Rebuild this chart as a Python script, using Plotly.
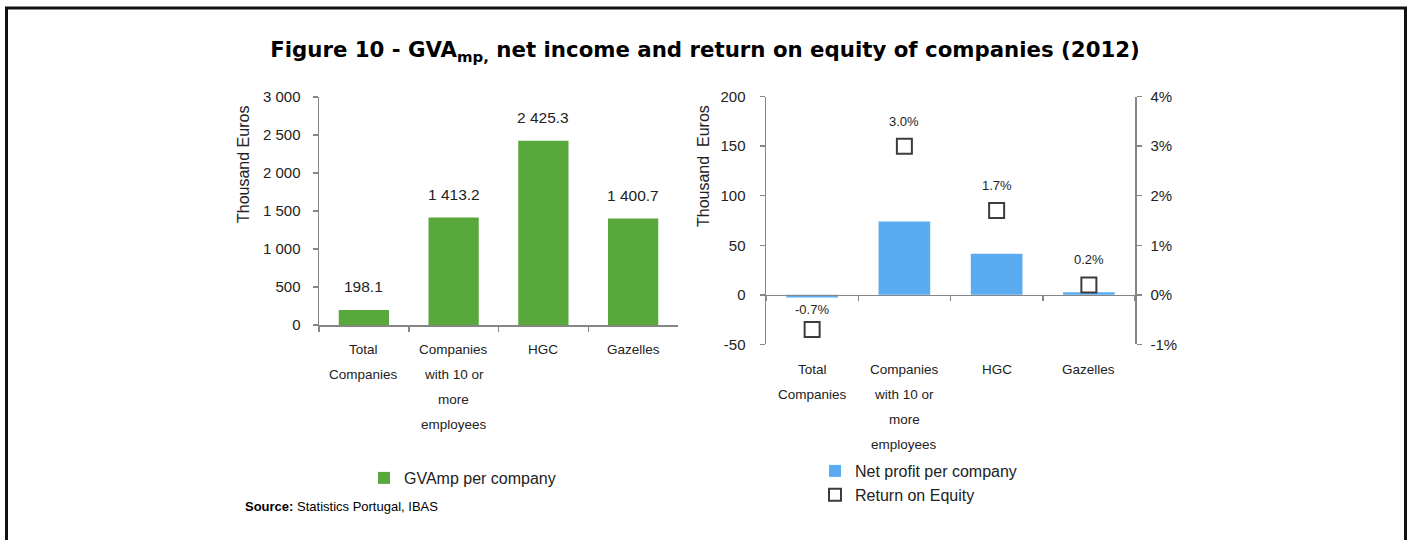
import plotly.graph_objects as go

W, H = 1410, 540

categories = ["Total Companies", "Companies with 10 or more employees", "HGC", "Gazelles"]
cat_lines = [["Total", "Companies"], ["Companies", "with 10 or", "more", "employees"], ["HGC"], ["Gazelles"]]
gva_values = [198.1, 1413.2, 2425.3, 1400.7]
gva_labels = ["198.1", "1 413.2", "2 425.3", "1 400.7"]
net_profit = [-2.7, 74.0, 41.5, 2.5]
roe_values = [-0.007, 0.030, 0.017, 0.002]
roe_labels = ["-0.7%", "3.0%", "1.7%", "0.2%"]
left_ticks = [0, 500, 1000, 1500, 2000, 2500, 3000]
left_ticktext = ["0", "500", "1 000", "1 500", "2 000", "2 500", "3 000"]
right_ticks = [-50, 0, 50, 100, 150, 200]
right_ticktext = ["-50", "0", "50", "100", "150", "200"]
pct_ticks = [-0.01, 0, 0.01, 0.02, 0.03, 0.04]
pct_ticktext = ["-1%", "0%", "1%", "2%", "3%", "4%"]

GREEN = "#58A83C"
BLUE = "#5AABF0"
AXIS = "#868686"
FONT = "Liberation Sans, Arial, sans-serif"


def px(x):
    return x / W


def py(y):
    return (H - y) / H


fig = go.Figure()

fig.add_trace(go.Bar(x=categories, y=gva_values, marker=dict(color=GREEN, line=dict(width=0)),
                     name="GVAmp per company", xaxis="x", yaxis="y", legend="legend",
                     hoverinfo="skip"))
fig.add_trace(go.Bar(x=categories, y=net_profit, marker=dict(color=BLUE, line=dict(width=0)),
                     name="Net profit per company", xaxis="x2", yaxis="y2", legend="legend2",
                     hoverinfo="skip"))
fig.add_trace(go.Scatter(x=categories, y=roe_values, mode="markers",
                         marker=dict(symbol="square", size=15, color="white",
                                     line=dict(color="#3C3C3C", width=2)),
                         name="Return on Equity", xaxis="x2", yaxis="y3", legend="legend2",
                         hoverinfo="skip"))

# Left chart geometry
L_x0, L_x1 = 319, 678
L_y0, L_y1 = 325, 97
# Right chart geometry
R_x0, R_x1 = 766, 1135
R_ytop, R_ybot = 96.7, 344.3
zero_frac = (0 - (-50)) / 250.0
r_dom = [py(R_ybot), py(R_ytop)]
x2_pos = r_dom[0] + zero_frac * (r_dom[1] - r_dom[0])

axis_common = dict(showgrid=False, zeroline=False, showline=True, linecolor=AXIS, linewidth=1.5,
                   ticks="outside", ticklen=5, tickcolor=AXIS, tickwidth=1.5, automargin=False,
                   tickfont=dict(family=FONT, size=15, color="#222"))

fig.update_layout(
    width=W, height=H,
    margin=dict(l=0, r=0, t=0, b=0, pad=0, autoexpand=False),
    paper_bgcolor="white", plot_bgcolor="white",
    bargap=0.44,
    showlegend=True,
    xaxis=dict(domain=[px(L_x0), px(L_x1)], anchor="y", showgrid=False, zeroline=False,
               showline=True, linecolor=AXIS, linewidth=1.5, ticks="outside", ticklen=5,
               tickcolor=AXIS, tickwidth=1.5, tickson="boundaries", showticklabels=False,
               automargin=False),
    yaxis=dict(domain=[py(L_y0), py(L_y1)], anchor="x", range=[0, 3000],
               tickvals=left_ticks, ticktext=left_ticktext, ticklabelstandoff=9, **axis_common),
    xaxis2=dict(domain=[px(R_x0), px(R_x1)], anchor="free", position=x2_pos, showgrid=False,
                zeroline=False, showline=True, linecolor=AXIS, linewidth=1.5, ticks="outside",
                ticklen=5, tickcolor=AXIS, tickwidth=1.5, tickson="boundaries",
                showticklabels=False, automargin=False),
    yaxis2=dict(domain=r_dom, anchor="x2", range=[-50, 200], tickvals=right_ticks,
                ticktext=right_ticktext, ticklabelstandoff=11, **axis_common),
    yaxis3=dict(overlaying="y2", anchor="x2", side="right", range=[-0.01, 0.04],
                tickvals=pct_ticks, ticktext=pct_ticktext, ticklabelstandoff=6, **axis_common),
    legend=dict(x=px(364), y=py(461), xanchor="left", yanchor="top",
                font=dict(family=FONT, size=16, color="#222"), bgcolor="rgba(0,0,0,0)",
                itemclick=False, itemdoubleclick=False),
    legend2=dict(x=px(815), y=py(454), xanchor="left", yanchor="top",
                 font=dict(family=FONT, size=16, color="#222"), bgcolor="rgba(0,0,0,0)",
                 tracegroupgap=0, itemsizing="constant", itemclick=False, itemdoubleclick=False),
    title=dict(text="Figure 10 - GVA<sub>mp,</sub> net income and return on equity of companies (2012)",
               x=0.5, xanchor="center", xref="paper", y=py(50), yref="paper", yanchor="middle",
               automargin=False,
               font=dict(family="DejaVu Sans, Verdana, sans-serif", size=21.3, color="black",
                         weight="bold")),
)

ann = []
# Bar value labels (left)
for c, v, t in zip(categories, gva_values, gva_labels):
    ann.append(dict(x=c, y=v, xref="x", yref="y", text=t, showarrow=False, xanchor="center",
                    yanchor="middle", yshift=23, font=dict(family=FONT, size=15.5, color="#222")))
# ROE labels (right)
for c, v, t in zip(categories, roe_values, roe_labels):
    ann.append(dict(x=c, y=v, xref="x2", yref="y3", text=t, showarrow=False, xanchor="center",
                    yanchor="middle", yshift=25 if v > 0 else 20,
                    font=dict(family=FONT, size=13, color="#222")))
# Category labels
for c, lines in zip(categories, cat_lines):
    for i, ln in enumerate(lines):
        ann.append(dict(x=c, xref="x", y=py(349 + 25.3 * i), yref="paper", text=ln,
                        showarrow=False, xanchor="center", yanchor="middle",
                        font=dict(family=FONT, size=13.5, color="#222")))
        ann.append(dict(x=c, xref="x2", y=py(369 + 25 * i), yref="paper", text=ln,
                        showarrow=False, xanchor="center", yanchor="middle",
                        font=dict(family=FONT, size=13.5, color="#222")))
# Axis titles
ann.append(dict(x=px(243), y=py(165), xref="paper", yref="paper", text="Thousand Euros",
                textangle=-90, showarrow=False, xanchor="center", yanchor="middle",
                font=dict(family=FONT, size=16, color="#222")))
ann.append(dict(x=px(703), y=py(166), xref="paper", yref="paper", text="Thousand  Euros",
                textangle=-90, showarrow=False, xanchor="center", yanchor="middle",
                font=dict(family=FONT, size=16, color="#222")))
# Source
ann.append(dict(x=px(243), y=py(506), xref="paper", yref="paper", xanchor="left",
                yanchor="middle", showarrow=False,
                text="<b>Source:</b> Statistics Portugal, IBAS",
                font=dict(family=FONT, size=13, color="black")))
fig.update_layout(annotations=ann)

# Frame border (top, left, right)
border = dict(color="#111111", width=3)
fig.update_layout(shapes=[
    dict(type="line", xref="paper", yref="paper", x0=px(5), x1=px(1407), y0=py(8), y1=py(8), line=border),
    dict(type="line", xref="paper", yref="paper", x0=px(6.5), x1=px(6.5), y0=py(8), y1=0, line=border),
    dict(type="line", xref="paper", yref="paper", x0=px(1405.5), x1=px(1405.5), y0=py(8), y1=0, line=border),
])

page_fix = (
    "var s=document.createElement('style');"
    "s.textContent='html,body{margin:0!important;padding:0!important;overflow:hidden;"
    "font-size:0;line-height:0;height:540px;width:1410px;}';"
    "document.head.appendChild(s);"
)

fig.write_html("out.html", config={"displayModeBar": False, "staticPlot": True},
               post_script=page_fix)
